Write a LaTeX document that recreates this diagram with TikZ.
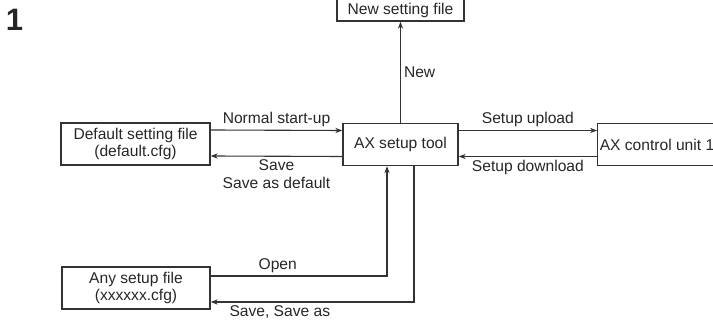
\documentclass[tikz,border=0pt]{standalone}
\usepackage{fontspec}
\setmainfont{Liberation Sans}
\usetikzlibrary{arrows.meta}

\begin{document}
\begin{tikzpicture}[x=0.5pt,y=-0.5pt,
  every node/.style={text=black!85,font=\fontsize{7.8}{8.8}\selectfont},
  box/.style={draw=black!80,line width=0.7pt,inner sep=1pt,align=center,minimum height=21pt},
  conn/.style={draw=black!80,line width=0.55pt,-{Stealth[length=3.5pt,width=2.6pt]}},
  lbl/.style={inner sep=1.5pt,align=center}]
\useasboundingbox (0,0) rectangle (713,325);
\node (num) at (14.5,20) {\fontsize{15.5}{17}\selectfont\bfseries 1};
\node[box,minimum width=63.5pt,minimum height=11pt] (newfile) at (400.5,10) {New setting file};
\node[box,minimum width=57.5pt] (tool) at (400.5,144.5) {AX setup tool};
\node[box,minimum width=74.5pt] (default) at (135.5,144) {Default setting file\\(default.cfg)};
\node[box,minimum width=59pt] (unit) at (657,144.5) {AX control unit 1};
\node[box,minimum width=74pt] (anyfile) at (136,288) {Any setup file\\(xxxxxx.cfg)};

\draw[conn] (tool.north) -- node[lbl,right] {New} (newfile.south);
\draw[conn] ([yshift=7pt]default.east) -- node[lbl,above] {Normal start-up} ([yshift=7pt]tool.west);
\draw[conn] ([yshift=-6pt]tool.west) -- node[lbl,below] {Save\\Save as default} ([yshift=-6pt]default.east);
\draw[conn] ([yshift=7pt]tool.east) -- node[lbl,above] {Setup upload} ([yshift=7pt]unit.west);
\draw[conn] ([yshift=-6pt]unit.west) -- node[lbl,below] {Setup download} ([yshift=-6pt]tool.east);
\draw[conn] ([yshift=6pt]anyfile.east) -| node[lbl,above,pos=0.19] {Open} ([xshift=-6.75pt]tool.south);
\draw[conn] ([xshift=6.75pt]tool.south) |- node[lbl,below,pos=0.83] {Save, Save as} ([yshift=-7pt]anyfile.east);
\end{tikzpicture}
\end{document}
